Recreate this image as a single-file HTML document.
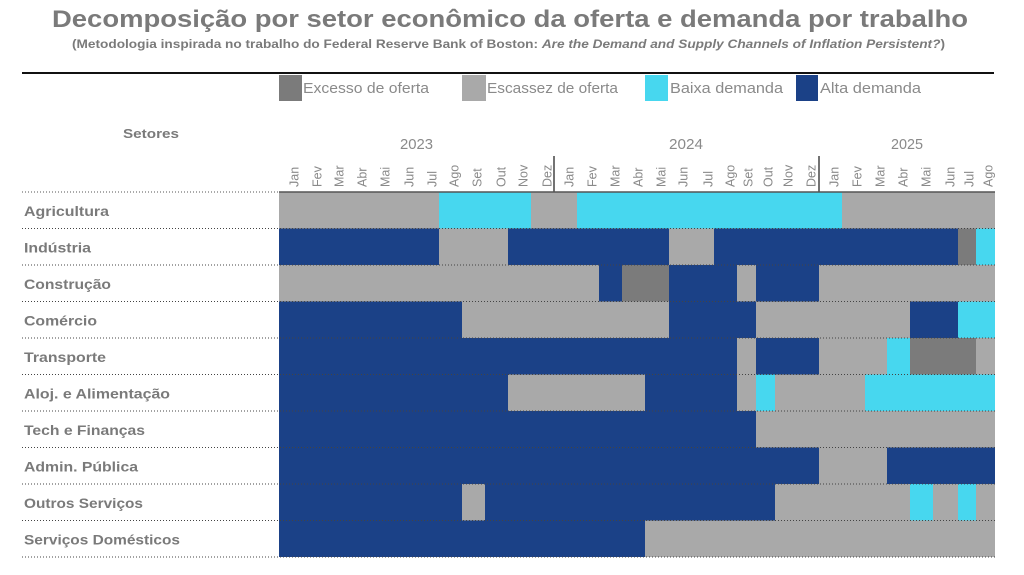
<!DOCTYPE html>
<html><head><meta charset="utf-8"><style>
html,body{margin:0;padding:0;background:#fff;}
svg{display:block;}
text{font-family:"Liberation Sans",sans-serif;}
</style></head><body>
<svg width="1024" height="575" viewBox="0 0 1024 575" xmlns="http://www.w3.org/2000/svg">
<rect width="1024" height="575" fill="#fff"/>
<!-- Title -->
<text x="52" y="27" font-size="24" font-weight="bold" fill="#7a7a7a" textLength="916" lengthAdjust="spacingAndGlyphs">Decomposição por setor econômico da oferta e demanda por trabalho</text>
<text x="72" y="48" font-size="12" font-weight="bold" fill="#7a7a7a" textLength="873" lengthAdjust="spacingAndGlyphs">(Metodologia inspirada no trabalho do Federal Reserve Bank of Boston: <tspan font-style="italic">Are the Demand and Supply Channels of Inflation Persistent?</tspan>)</text>
<line x1="22" y1="73" x2="994" y2="73" stroke="#111" stroke-width="2"/>
<!-- Legend -->
<rect x="279" y="75" width="23" height="26" fill="#7b7b7b"/>
<text x="303" y="93" font-size="15" fill="#8a8a8a" textLength="126" lengthAdjust="spacingAndGlyphs">Excesso de oferta</text>
<rect x="462" y="75" width="24" height="26" fill="#a9a9a9"/>
<text x="487" y="93" font-size="15" fill="#8a8a8a" textLength="131" lengthAdjust="spacingAndGlyphs">Escassez de oferta</text>
<rect x="645" y="75" width="23" height="26" fill="#47d7ef"/>
<text x="670" y="93" font-size="15" fill="#8a8a8a" textLength="113" lengthAdjust="spacingAndGlyphs">Baixa demanda</text>
<rect x="796" y="75" width="22" height="26" fill="#1b4187"/>
<text x="820" y="93" font-size="15" fill="#8a8a8a" textLength="101" lengthAdjust="spacingAndGlyphs">Alta demanda</text>
<!-- Setores -->
<text x="123" y="138" font-size="13" font-weight="bold" fill="#7a7a7a" textLength="56" lengthAdjust="spacingAndGlyphs">Setores</text>
<!-- Years -->
<text x="400" y="149" font-size="15" fill="#8a8a8a" textLength="33" lengthAdjust="spacingAndGlyphs">2023</text>
<text x="669" y="149" font-size="15" fill="#8a8a8a" textLength="34" lengthAdjust="spacingAndGlyphs">2024</text>
<text x="891" y="149" font-size="15" fill="#8a8a8a" textLength="32" lengthAdjust="spacingAndGlyphs">2025</text>
<!-- Month labels -->
<g font-size="12.5" fill="#8a8a8a">
<text transform="translate(298.5,187) rotate(-90)">Jan</text>
<text transform="translate(321.5,187) rotate(-90)">Fev</text>
<text transform="translate(343.5,187) rotate(-90)">Mar</text>
<text transform="translate(366.5,187) rotate(-90)">Abr</text>
<text transform="translate(389.5,187) rotate(-90)">Mai</text>
<text transform="translate(413.5,187) rotate(-90)">Jun</text>
<text transform="translate(436.5,187) rotate(-90)">Jul</text>
<text transform="translate(458.5,187) rotate(-90)">Ago</text>
<text transform="translate(481.5,187) rotate(-90)">Set</text>
<text transform="translate(505.5,187) rotate(-90)">Out</text>
<text transform="translate(527.5,187) rotate(-90)">Nov</text>
<text transform="translate(551.5,187) rotate(-90)">Dez</text>
<text transform="translate(573.5,187) rotate(-90)">Jan</text>
<text transform="translate(596.5,187) rotate(-90)">Fev</text>
<text transform="translate(619.5,187) rotate(-90)">Mar</text>
<text transform="translate(642.5,187) rotate(-90)">Abr</text>
<text transform="translate(665.5,187) rotate(-90)">Mai</text>
<text transform="translate(687.5,187) rotate(-90)">Jun</text>
<text transform="translate(712.5,187) rotate(-90)">Jul</text>
<text transform="translate(734.5,187) rotate(-90)">Ago</text>
<text transform="translate(752.5,187) rotate(-90)">Set</text>
<text transform="translate(772.5,187) rotate(-90)">Out</text>
<text transform="translate(792.5,187) rotate(-90)">Nov</text>
<text transform="translate(815.5,187) rotate(-90)">Dez</text>
<text transform="translate(838.5,187) rotate(-90)">Jan</text>
<text transform="translate(861.5,187) rotate(-90)">Fev</text>
<text transform="translate(884.5,187) rotate(-90)">Mar</text>
<text transform="translate(907.5,187) rotate(-90)">Abr</text>
<text transform="translate(930.5,187) rotate(-90)">Mai</text>
<text transform="translate(954.5,187) rotate(-90)">Jun</text>
<text transform="translate(973.5,187) rotate(-90)">Jul</text>
<text transform="translate(992.5,187) rotate(-90)">Ago</text>
</g>
<line x1="554" y1="156" x2="554" y2="192" stroke="#444" stroke-width="1.5"/>
<line x1="819" y1="156" x2="819" y2="192" stroke="#444" stroke-width="1.5"/>
<!-- Bars -->
<g shape-rendering="crispEdges">
<!-- R1 Agricultura -->
<rect x="279" y="192" width="160" height="36.5" fill="#a9a9a9"/>
<rect x="439" y="192" width="92" height="36.5" fill="#47d7ef"/>
<rect x="531" y="192" width="46" height="36.5" fill="#a9a9a9"/>
<rect x="577" y="192" width="265" height="36.5" fill="#47d7ef"/>
<rect x="842" y="192" width="153" height="36.5" fill="#a9a9a9"/>
<!-- R2 Industria -->
<rect x="279" y="228.5" width="160" height="36.5" fill="#1b4187"/>
<rect x="439" y="228.5" width="69" height="36.5" fill="#a9a9a9"/>
<rect x="508" y="228.5" width="161" height="36.5" fill="#1b4187"/>
<rect x="669" y="228.5" width="45" height="36.5" fill="#a9a9a9"/>
<rect x="714" y="228.5" width="244" height="36.5" fill="#1b4187"/>
<rect x="958" y="228.5" width="18" height="36.5" fill="#7b7b7b"/>
<rect x="976" y="228.5" width="19" height="36.5" fill="#47d7ef"/>
<!-- R3 Construcao -->
<rect x="279" y="265" width="320" height="36.5" fill="#a9a9a9"/>
<rect x="599" y="265" width="23" height="36.5" fill="#1b4187"/>
<rect x="622" y="265" width="47" height="36.5" fill="#7b7b7b"/>
<rect x="669" y="265" width="68" height="36.5" fill="#1b4187"/>
<rect x="737" y="265" width="19" height="36.5" fill="#a9a9a9"/>
<rect x="756" y="265" width="63" height="36.5" fill="#1b4187"/>
<rect x="819" y="265" width="176" height="36.5" fill="#a9a9a9"/>
<!-- R4 Comercio -->
<rect x="279" y="301.5" width="183" height="36.5" fill="#1b4187"/>
<rect x="462" y="301.5" width="207" height="36.5" fill="#a9a9a9"/>
<rect x="669" y="301.5" width="87" height="36.5" fill="#1b4187"/>
<rect x="756" y="301.5" width="154" height="36.5" fill="#a9a9a9"/>
<rect x="910" y="301.5" width="48" height="36.5" fill="#1b4187"/>
<rect x="958" y="301.5" width="37" height="36.5" fill="#47d7ef"/>
<!-- R5 Transporte -->
<rect x="279" y="338" width="458" height="36.5" fill="#1b4187"/>
<rect x="737" y="338" width="19" height="36.5" fill="#a9a9a9"/>
<rect x="756" y="338" width="63" height="36.5" fill="#1b4187"/>
<rect x="819" y="338" width="68" height="36.5" fill="#a9a9a9"/>
<rect x="887" y="338" width="23" height="36.5" fill="#47d7ef"/>
<rect x="910" y="338" width="66" height="36.5" fill="#7b7b7b"/>
<rect x="976" y="338" width="19" height="36.5" fill="#a9a9a9"/>
<!-- R6 Aloj -->
<rect x="279" y="374.5" width="229" height="36.5" fill="#1b4187"/>
<rect x="508" y="374.5" width="137" height="36.5" fill="#a9a9a9"/>
<rect x="645" y="374.5" width="92" height="36.5" fill="#1b4187"/>
<rect x="737" y="374.5" width="19" height="36.5" fill="#a9a9a9"/>
<rect x="756" y="374.5" width="19" height="36.5" fill="#47d7ef"/>
<rect x="775" y="374.5" width="90" height="36.5" fill="#a9a9a9"/>
<rect x="865" y="374.5" width="130" height="36.5" fill="#47d7ef"/>
<!-- R7 Tech -->
<rect x="279" y="411" width="477" height="36.5" fill="#1b4187"/>
<rect x="756" y="411" width="239" height="36.5" fill="#a9a9a9"/>
<!-- R8 Admin -->
<rect x="279" y="447.5" width="540" height="36.5" fill="#1b4187"/>
<rect x="819" y="447.5" width="68" height="36.5" fill="#a9a9a9"/>
<rect x="887" y="447.5" width="108" height="36.5" fill="#1b4187"/>
<!-- R9 Outros -->
<rect x="279" y="484" width="183" height="36.5" fill="#1b4187"/>
<rect x="462" y="484" width="23" height="36.5" fill="#a9a9a9"/>
<rect x="485" y="484" width="290" height="36.5" fill="#1b4187"/>
<rect x="775" y="484" width="135" height="36.5" fill="#a9a9a9"/>
<rect x="910" y="484" width="23" height="36.5" fill="#47d7ef"/>
<rect x="933" y="484" width="25" height="36.5" fill="#a9a9a9"/>
<rect x="958" y="484" width="18" height="36.5" fill="#47d7ef"/>
<rect x="976" y="484" width="19" height="36.5" fill="#a9a9a9"/>
<!-- R10 Domesticos -->
<rect x="279" y="520.5" width="366" height="36.5" fill="#1b4187"/>
<rect x="645" y="520.5" width="350" height="36.5" fill="#a9a9a9"/>
</g>
<!-- Grid lines -->
<line x1="22" y1="192" x2="279" y2="192" stroke="#555" stroke-width="1" stroke-dasharray="1 2"/>
<line x1="279" y1="192" x2="995" y2="192" stroke="#555" stroke-width="1.5"/>
<g stroke="#444" stroke-width="1" stroke-dasharray="1 2">
<line x1="22" y1="228.5" x2="995" y2="228.5"/>
<line x1="22" y1="265" x2="995" y2="265"/>
<line x1="22" y1="301.5" x2="995" y2="301.5"/>
<line x1="22" y1="338" x2="995" y2="338"/>
<line x1="22" y1="374.5" x2="995" y2="374.5"/>
<line x1="22" y1="411" x2="995" y2="411"/>
<line x1="22" y1="447.5" x2="995" y2="447.5"/>
<line x1="22" y1="484" x2="995" y2="484"/>
<line x1="22" y1="520.5" x2="995" y2="520.5"/>
<line x1="22" y1="557" x2="995" y2="557"/>
</g>
<!-- Row labels -->
<g font-size="14" font-weight="bold" fill="#7a7a7a">
<text x="24" y="216" textLength="85" lengthAdjust="spacingAndGlyphs">Agricultura</text>
<text x="24" y="252.5" textLength="67" lengthAdjust="spacingAndGlyphs">Indústria</text>
<text x="24" y="289" textLength="87" lengthAdjust="spacingAndGlyphs">Construção</text>
<text x="24" y="325.5" textLength="73" lengthAdjust="spacingAndGlyphs">Comércio</text>
<text x="24" y="362" textLength="82" lengthAdjust="spacingAndGlyphs">Transporte</text>
<text x="24" y="398.5" textLength="146" lengthAdjust="spacingAndGlyphs">Aloj. e Alimentação</text>
<text x="24" y="435" textLength="121" lengthAdjust="spacingAndGlyphs">Tech e Finanças</text>
<text x="24" y="471.5" textLength="114" lengthAdjust="spacingAndGlyphs">Admin. Pública</text>
<text x="24" y="508" textLength="119" lengthAdjust="spacingAndGlyphs">Outros Serviços</text>
<text x="24" y="544.5" textLength="156" lengthAdjust="spacingAndGlyphs">Serviços Domésticos</text>
</g>
</svg>
</body></html>
